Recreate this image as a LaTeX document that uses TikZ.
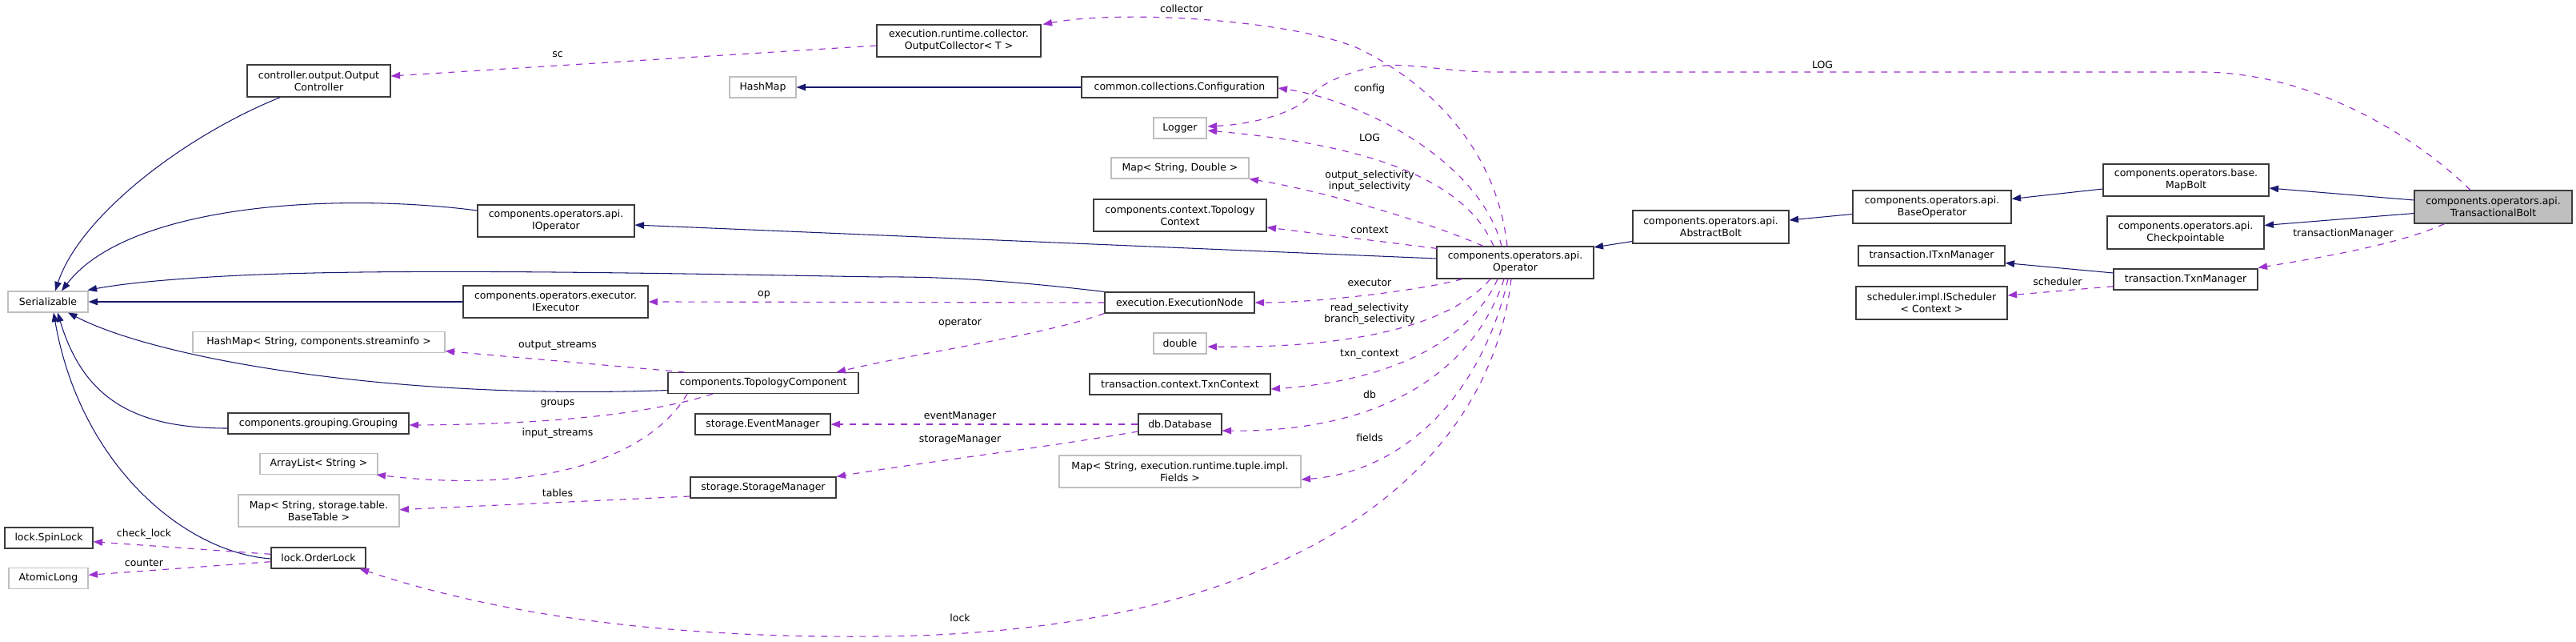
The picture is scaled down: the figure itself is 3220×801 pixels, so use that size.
\documentclass[tikz,border=0pt]{standalone}
\usepackage{fontspec}
\setmainfont{DejaVu Sans}
\usetikzlibrary{arrows.meta,calc}
\definecolor{inh}{HTML}{191970}
\definecolor{usg}{HTML}{9A32CD}
\definecolor{extgrey}{HTML}{BFBFBF}
\definecolor{boxedge}{HTML}{3C3C3C}
\tikzset{
  box/.style={rectangle, draw=boxedge, line width=1.1pt, fill=white, inner sep=0pt, align=center, font=\fontsize{12.5}{15}\selectfont, text=black},
  extbox/.style={box, draw=extgrey},
  mainbox/.style={box, fill=extgrey},
  sz/.style 2 args={minimum width=#1pt, minimum height=#2pt},
  inhl/.style={draw=inh, line width=1.05pt, -{Triangle[length=11.5pt,width=8.5pt]}},
  usel/.style={draw=usg, line width=1.15pt, dash pattern=on 8pt off 8pt, -{Triangle[length=11.5pt,width=8.5pt]}},
  lbl/.style={font=\fontsize{12.5}{13.5}\selectfont, align=center, inner sep=0pt, text=black}
}
\begin{document}
\begin{tikzpicture}[x=1pt,y=-1pt]
\useasboundingbox (0,0) rectangle (3220,801);
% ---------------- nodes ----------------
\node[box,sz={179}{40}] (outctrl) at (398.5,101) {controller.output.Output\\Controller};
\node[extbox,sz={83}{26}] (hashmap) at (953.5,109) {HashMap};
\node[box,sz={196}{40}] (ioperator) at (695,276) {components.operators.api.\\IOperator};
\node[extbox,sz={100}{26}] (serial) at (60,377) {Serializable};
\node[box,sz={231}{40}] (iexec) at (694.5,377) {components.operators.executor.\\IExecutor};
\node[extbox,sz={315}{26}] (hmsi) at (398.5,427.5) {HashMap< String, components.streaminfo >};
\node[box,sz={238}{26}] (topo) at (954,478.5) {components.TopologyComponent};
\node[box,sz={226}{26}] (grouping) at (398,529) {components.grouping.Grouping};
\node[box,sz={169}{26}] (eventmgr) at (953.5,530) {storage.EventManager};
\node[extbox,sz={147}{26}] (arrlist) at (398.5,579.5) {ArrayList< String >};
\node[box,sz={182}{26}] (storagemgr) at (954,609) {storage.StorageManager};
\node[extbox,sz={201}{40}] (mapbt) at (398.5,638) {Map< String, storage.table.\\BaseTable >};
\node[box,sz={110}{26}] (spinlock) at (61,672) {lock.SpinLock};
\node[box,sz={118}{26}] (orderlock) at (398,697) {lock.OrderLock};
\node[extbox,sz={99}{26}] (atomiclong) at (60.5,722.5) {AtomicLong};
\node[box,sz={205}{40}] (outcoll) at (1198.5,51) {execution.runtime.collector.\\OutputCollector< T >};
\node[box,sz={245}{26}] (config) at (1474.5,109) {common.collections.Configuration};
\node[extbox,sz={66}{26}] (logger) at (1475,160) {Logger};
\node[extbox,sz={172}{26}] (msd) at (1475,210) {Map< String, Double >};
\node[box,sz={216}{40}] (topoctx) at (1475,269) {components.context.Topology\\Context};
\node[box,sz={196}{40}] (operator) at (1894,328) {components.operators.api.\\Operator};
\node[box,sz={195}{41}] (abolt) at (2138.5,283.5) {components.operators.api.\\AbstractBolt};
\node[box,sz={187}{26}] (execnode) at (1474.5,378) {execution.ExecutionNode};
\node[extbox,sz={66}{26}] (dbl) at (1475,429) {double};
\node[box,sz={226}{26}] (txnctx) at (1475,480) {transaction.context.TxnContext};
\node[box,sz={104}{26}] (database) at (1475,530) {db.Database};
\node[extbox,sz={302}{40}] (mapfields) at (1475,589) {Map< String, execution.runtime.tuple.impl.\\Fields >};
\node[box,sz={207}{40}] (mapbolt) at (2732.5,225) {components.operators.base.\\MapBolt};
\node[box,sz={198}{41}] (baseop) at (2415,258.5) {components.operators.api.\\BaseOperator};
\node[mainbox,sz={197}{41}] (tb) at (3116.5,258.5) {components.operators.api.\\TransactionalBolt};
\node[box,sz={196}{41}] (ckpt) at (2732,290.5) {components.operators.api.\\Checkpointable};
\node[box,sz={183}{25}] (itxn) at (2414.5,319.5) {transaction.ITxnManager};
\node[box,sz={180}{26}] (txnmgr) at (2732,349) {transaction.TxnManager};
\node[box,sz={189}{41}] (isched) at (2414.5,378.5) {scheduler.impl.IScheduler\\< Context >};
% ---------------- inheritance ----------------
\draw[inhl] ($(tb.west)+(0,-8.5)$) -- ($(mapbolt.east)+(0,10)$);
\draw[inhl] ($(tb.west)+(0,8)$) -- ($(ckpt.east)+(0,-9)$);
\draw[inhl] ($(mapbolt.west)+(0,11)$) -- ($(baseop.east)+(0,-10)$);
\draw[inhl] ($(baseop.west)+(0,9)$) -- ($(abolt.east)+(0,-8.5)$);
\draw[inhl] ($(abolt.west)+(0,18)$) -- ($(operator.north east)+(0,1.5)$);
\draw[inhl] ($(txnmgr.west)+(0,-8)$) -- ($(itxn.east)+(0,9)$);
\draw[inhl] ($(operator.west)+(0,-5)$) -- ($(ioperator.east)+(0,5)$);
\draw[inhl] (execnode.north west) .. controls (1300,355) and (1200,345) .. (1100,346) .. controls (800,341) and (500,335) .. (300,344) .. controls (200,349) and (150,355) .. ($(serial.north east)+(-1,-1)$);
\draw[inhl] ($(ioperator.west)+(0,-13)$) .. controls (420,240) and (160,255) .. ($(serial.north)+(17,0)$);
\draw[inhl] ($(outctrl.south west)+(42,0)$) .. controls (230,170) and (100,270) .. ($(serial.north)+(9,0)$);
\draw[inhl] (iexec.west) -- (serial.east);
\draw[inhl] ($(topo.west)+(0,9)$) .. controls (500,500) and (200,450) .. ($(serial.south)+(25,0)$);
\draw[inhl] ($(grouping.west)+(0,6)$) .. controls (170,535) and (105,500) .. ($(serial.south)+(12,0)$);
\draw[inhl] ($(orderlock.west)+(0,1)$) .. controls (230,690) and (100,580) .. ($(serial.south)+(7,0)$);
\draw[inhl] (config.west) -- (hashmap.east);
% ---------------- usage ----------------
\draw[usel] ($(outcoll.west)+(0,6)$) -- ($(outctrl.east)+(0,-6)$);
\draw[usel] ($(operator.north)+(-10,0)$) .. controls (1870,180) and (1780,100) .. (1697,60) .. controls (1610,24) and (1400,12) .. ($(outcoll.north east)+(2,0)$);
\draw[usel] ($(tb.north)+(-28.5,0)$) .. controls (3030,180) and (2900,90) .. (2750,90) -- (1870,90) .. controls (1800,90) and (1760,76) .. (1715,84) .. controls (1680,92) and (1650,105) .. (1638,120) .. controls (1620,140) and (1570,155) .. ($(logger.east)+(1,-2)$);
\draw[usel] ($(operator.north)+(-17,0)$) .. controls (1850,200) and (1700,125) .. ($(config.east)+(0,1)$);
\draw[usel] ($(operator.north)+(-27,0)$) .. controls (1830,220) and (1700,180) .. ($(logger.east)+(1,3)$);
\draw[usel] ($(operator.north)+(-40,0)$) .. controls (1780,275) and (1650,238) .. (msd.south east);
\draw[usel] ($(operator.north west)+(1,3)$) -- ($(topoctx.east)+(0,15)$);
\draw[usel] ($(operator.south)+(-66,0)$) .. controls (1780,362) and (1650,378) .. (execnode.east);
\draw[usel] ($(operator.south)+(-31,0)$) .. controls (1810,410) and (1680,435) .. ($(dbl.east)+(1,4)$);
\draw[usel] ($(operator.south)+(-22,0)$) .. controls (1840,420) and (1750,475) .. ($(txnctx.east)+(0,6)$);
\draw[usel] ($(operator.south)+(-14,0)$) .. controls (1840,470) and (1720,540) .. ($(database.east)+(0,8)$);
\draw[usel] ($(operator.south)+(-9,0)$) .. controls (1850,500) and (1750,590) .. ($(mapfields.east)+(0,10)$);
\draw[usel] ($(operator.south)+(-5,0)$) .. controls (1860,600) and (1600,790) .. (1100,795) .. controls (800,798) and (600,760) .. ($(orderlock.south east)+(-8,0)$);
\draw[usel] (execnode.west) -- (iexec.east);
\draw[usel] (execnode.south west) .. controls (1300,420) and (1150,440) .. ($(topo.north east)+(-28,0)$);
\draw[usel] ($(topo.north)+(-98,0)$) -- ($(hmsi.east)+(0,11)$);
\draw[usel] ($(topo.south)+(-63,0)$) .. controls (820,515) and (700,530) .. ($(grouping.east)+(0,2)$);
\draw[usel] ($(topo.south)+(-95,0)$) .. controls (820,560) and (700,620) .. ($(arrlist.south east)+(-2,0)$);
\draw[usel] (database.west) -- (eventmgr.east);
\draw[usel] ($(database.west)+(0,9)$) .. controls (1300,560) and (1150,578) .. (storagemgr.north east);
\draw[usel] ($(storagemgr.west)+(0,11)$) -- ($(mapbt.east)+(0,-1.3)$);
\draw[usel] ($(orderlock.west)+(0,-4.7)$) -- ($(spinlock.east)+(0,4.7)$);
\draw[usel] ($(orderlock.west)+(0,4.7)$) -- ($(atomiclong.east)+(0,-4.2)$);
\draw[usel] ($(tb.south)+(-61,0)$) .. controls (3000,305) and (2900,322) .. ($(txnmgr.north east)+(0,-1)$);
\draw[usel] ($(txnmgr.west)+(0,8.7)$) -- ($(isched.east)+(0,-9.5)$);
% ---------------- labels ----------------
\node[lbl] (l-sc) at (697,68) {sc};
\node[lbl] (l-collector) at (1477,11) {collector};
\node[lbl] (l-log1) at (2278,81) {LOG};
\node[lbl] (l-config) at (1712,111) {config};
\node[lbl] (l-log2) at (1712,172) {LOG};
\node[lbl] (l-sel1) at (1712,226) {output\_selectivity\\input\_selectivity};
\node[lbl] (l-context) at (1712,287) {context};
\node[lbl] (l-executor) at (1712,353) {executor};
\node[lbl] (l-sel2) at (1712,392) {read\_selectivity\\branch\_selectivity};
\node[lbl] (l-txnctx) at (1712,443) {txn\_context};
\node[lbl] (l-db) at (1712,493) {db};
\node[lbl] (l-fields) at (1712,547) {fields};
\node[lbl] (l-lock) at (1200,772) {lock};
\node[lbl] (l-evm) at (1200,520) {eventManager};
\node[lbl] (l-stm) at (1200,549) {storageManager};
\node[lbl] (l-operator) at (1200,403) {operator};
\node[lbl] (l-op) at (955,368) {op};
\node[lbl] (l-outs) at (697,432) {output\_streams};
\node[lbl] (l-groups) at (697,504) {groups};
\node[lbl] (l-ins) at (697,541) {input\_streams};
\node[lbl] (l-tables) at (697,616) {tables};
\node[lbl] (l-check) at (180,667) {check\_lock};
\node[lbl] (l-counter) at (180,703) {counter};
\node[lbl] (l-tm) at (2929,292) {transactionManager};
\node[lbl] (l-sched) at (2572,352) {scheduler};
\end{tikzpicture}
\end{document}
